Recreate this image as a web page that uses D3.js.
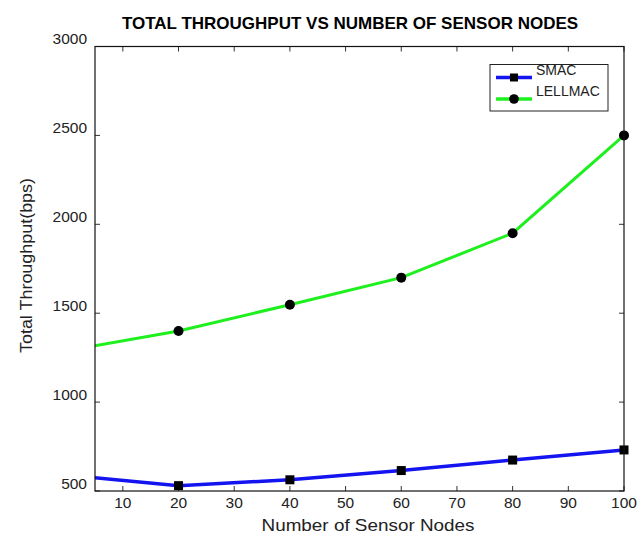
<!DOCTYPE html>
<html>
<head>
<meta charset="utf-8">
<script src="https://cdn.jsdelivr.net/npm/d3@7"></script>
<style>
  html, body { margin: 0; padding: 0; background: #fff; }
  svg { display: block; font-family: Arial, "Liberation Sans", Helvetica, sans-serif; }
</style>
</head>
<body>
<svg id="chart" width="638" height="533"></svg>
<script>
// Number of sensor nodes (x values)
const nodes = [0, 20, 40, 60, 80, 100];
// Total throughput (bps) per protocol
const smac = [590, 530, 563, 615, 674, 731];
const lellmac = [1290, 1400, 1548, 1700, 1950, 2500];
const seriesNames = ["SMAC", "LELLMAC"];
const xTicks = [10, 20, 30, 40, 50, 60, 70, 80, 90, 100];
const yTicks = [500, 1000, 1500, 2000, 2500, 3000];

const svg = d3.select("#chart");
const plotLeft = 95, plotRight = 624, plotTop = 46.5, plotBottom = 491;

const x = d3.scaleLinear().domain([5, 100]).range([plotLeft, plotRight]);
const y = d3.scaleLinear().domain([500, 3000]).range([plotBottom, plotTop]);

svg.append("defs").append("clipPath").attr("id", "plotClip")
  .append("rect").attr("x", plotLeft).attr("y", plotTop - 10)
  .attr("width", plotRight - plotLeft + 10).attr("height", plotBottom - plotTop + 20);

// Title
svg.append("text")
  .attr("x", 350).attr("y", 29)
  .attr("text-anchor", "middle")
  .attr("font-size", 17).attr("font-weight", "bold").attr("fill", "#000")
  .text("TOTAL THROUGHPUT VS NUMBER OF SENSOR NODES");

// Inward ticks on all four sides
const tickLen = 5;
const ticksG = svg.append("g").attr("stroke", "#333").attr("stroke-width", 1);
xTicks.forEach(t => {
  ticksG.append("line").attr("x1", x(t)).attr("x2", x(t)).attr("y1", plotBottom).attr("y2", plotBottom - tickLen);
  ticksG.append("line").attr("x1", x(t)).attr("x2", x(t)).attr("y1", plotTop).attr("y2", plotTop + tickLen);
});
yTicks.forEach(t => {
  ticksG.append("line").attr("x1", plotLeft).attr("x2", plotLeft + tickLen).attr("y1", y(t)).attr("y2", y(t));
  ticksG.append("line").attr("x1", plotRight).attr("x2", plotRight - tickLen).attr("y1", y(t)).attr("y2", y(t));
});

// Tick labels
svg.append("g").selectAll("text").data(xTicks).join("text")
  .attr("x", d => x(d)).attr("y", 507.5)
  .attr("text-anchor", "middle").attr("font-size", 15.5).attr("fill", "#222")
  .text(d => d);
svg.append("g").selectAll("text").data(yTicks).join("text")
  .attr("x", 87).attr("y", d => y(d) - 2.5)
  .attr("text-anchor", "end").attr("font-size", 15.5).attr("fill", "#222")
  .text(d => d);

// Axis titles (slightly wide lettering)
svg.append("text")
  .attr("x", 368).attr("y", 531)
  .attr("text-anchor", "middle").attr("font-size", 16.5).attr("fill", "#222")
  .attr("textLength", 213).attr("lengthAdjust", "spacingAndGlyphs")
  .text("Number of Sensor Nodes");
svg.append("text")
  .attr("transform", "translate(32,265.5) rotate(-90)")
  .attr("text-anchor", "middle").attr("font-size", 16).attr("fill", "#222")
  .attr("textLength", 175).attr("lengthAdjust", "spacingAndGlyphs")
  .text("Total Throughput(bps)");

// Series lines and markers
const line = d3.line().x((d, i) => x(nodes[i])).y(d => y(d));
const plot = svg.append("g").attr("clip-path", "url(#plotClip)");

plot.append("path").datum(lellmac)
  .attr("d", line).attr("fill", "none").attr("stroke", "#1ef01e").attr("stroke-width", 3);
plot.append("path").datum(smac)
  .attr("d", line).attr("fill", "none").attr("stroke", "#1414f0").attr("stroke-width", 3.5);

const inView = i => nodes[i] >= 5;
plot.selectAll("circle.pt").data(lellmac.map((v, i) => ({ v, i })).filter(d => inView(d.i)))
  .join("circle").attr("class", "pt")
  .attr("cx", d => x(nodes[d.i])).attr("cy", d => y(d.v)).attr("r", 5).attr("fill", "#000");
plot.selectAll("rect.pt").data(smac.map((v, i) => ({ v, i })).filter(d => inView(d.i)))
  .join("rect").attr("class", "pt")
  .attr("x", d => x(nodes[d.i]) - 4.5).attr("y", d => y(d.v) - 4.5)
  .attr("width", 9).attr("height", 9).attr("fill", "#000");

// Plot frame
svg.append("rect")
  .attr("x", plotLeft).attr("y", plotTop).attr("width", plotRight - plotLeft).attr("height", plotBottom - plotTop)
  .attr("fill", "none").attr("stroke", "#111").attr("stroke-width", 1.2);

// Legend
const lg = svg.append("g");
lg.append("rect").attr("x", 490).attr("y", 64.5).attr("width", 118).attr("height", 46.5)
  .attr("fill", "#fff").attr("stroke", "#222").attr("stroke-width", 1);
const legendRows = [
  { name: seriesNames[0], color: "#1414f0", ly: 77.5, ty: 74.5, marker: "square" },
  { name: seriesNames[1], color: "#1ef01e", ly: 99, ty: 96, marker: "circle" }
];
legendRows.forEach(r => {
  lg.append("line").attr("x1", 496).attr("x2", 532).attr("y1", r.ly).attr("y2", r.ly)
    .attr("stroke", r.color).attr("stroke-width", 3.5);
  if (r.marker === "square") {
    lg.append("rect").attr("x", 510).attr("y", r.ly - 4).attr("width", 8).attr("height", 8).attr("fill", "#000");
  } else {
    lg.append("circle").attr("cx", 514).attr("cy", r.ly).attr("r", 4.8).attr("fill", "#000");
  }
  lg.append("text").attr("x", 536).attr("y", r.ty).attr("font-size", 14).attr("fill", "#222").text(r.name);
});
</script>
</body>
</html>
